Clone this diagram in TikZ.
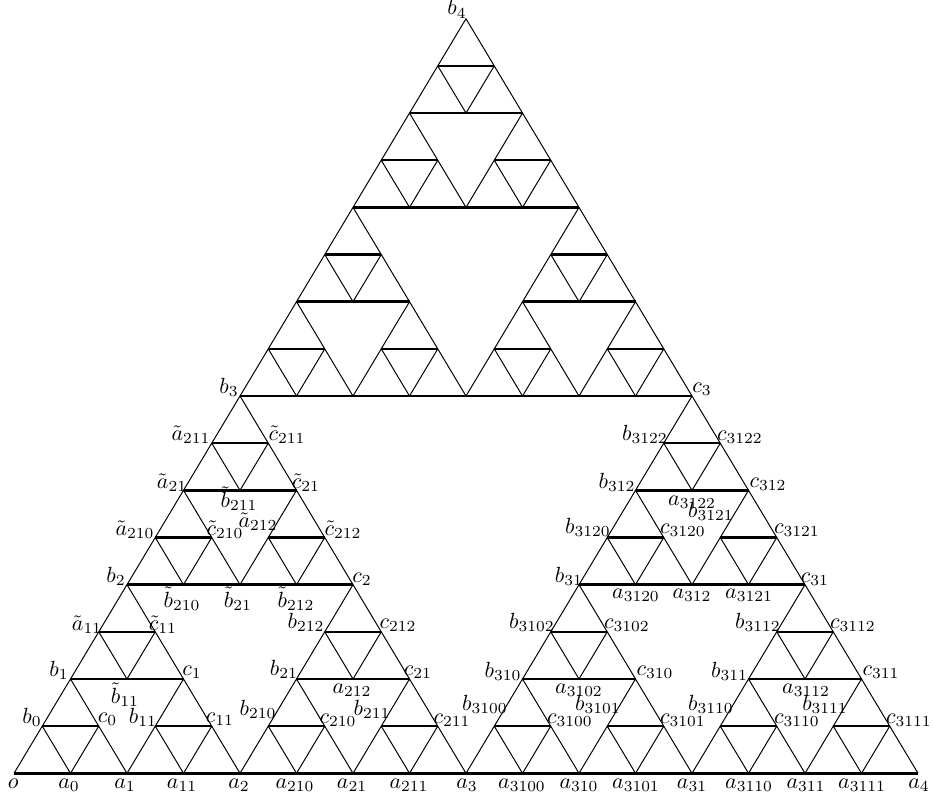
\documentclass[tikz,border=0pt]{standalone}
\begin{document}
\begin{tikzpicture}[x=0.016cm,y=-0.016cm,
  hline/.style={line width=1.1pt},
  sline/.style={line width=0.45pt,line join=round},
  lab/.style={anchor=base,inner sep=0pt,font=\fontsize{10}{12}\selectfont}]
\useasboundingbox (0,0) rectangle (933,798);
% level-4 Sierpinski gasket: 81 small upward triangles
\foreach \ua in {0,1,2}{\foreach \ub in {0,1,2}{\foreach \uc in {0,1,2}{\foreach \ud in {0,1,2}{
  \pgfmathtruncatemacro{\kk}{8*(\ua==1)+4*(\ub==1)+2*(\uc==1)+(\ud==1)}
  \pgfmathtruncatemacro{\jj}{8*(\ua==2)+4*(\ub==2)+2*(\uc==2)+(\ud==2)}
  \pgfmathsetmacro{\xl}{14+56.5*(\kk+\jj/2)}
  \pgfmathsetmacro{\yb}{773.3-47.16*\jj}
  \coordinate (L) at (\xl,\yb);
  \coordinate (R) at (\xl+56.5,\yb);
  \coordinate (T) at (\xl+28.25,\yb-47.16);
  \draw[sline] (L) -- (T) -- (R);
  \draw[hline] (L) -- (R);
}}}}
% bottom row
\node[lab] (lo) at (13.3,788) {$o$};
\node[lab] (la0) at (69,788) {$a_0$};
\node[lab] (la1) at (125,788) {$a_1$};
\node[lab] (la11) at (182,788) {$a_{11}$};
\node[lab] (la2) at (239,788) {$a_2$};
\node[lab] (la210) at (295,788) {$a_{210}$};
\node[lab] (la21) at (352,788) {$a_{21}$};
\node[lab] (la211) at (409,788) {$a_{211}$};
\node[lab] (la3) at (467,788) {$a_3$};
\node[lab] (la3100) at (522,788) {$a_{3100}$};
\node[lab] (la310) at (579,788) {$a_{310}$};
\node[lab] (la3101) at (636,788) {$a_{3101}$};
\node[lab] (la31) at (692,788) {$a_{31}$};
\node[lab] (la3110) at (749,788) {$a_{3110}$};
\node[lab] (la311) at (806,788) {$a_{311}$};
\node[lab] (la3111) at (862,788) {$a_{3111}$};
\node[lab] (la4) at (919,788) {$a_4$};
% row 1
\node[lab] (lb0) at (32,723) {$b_0$};
\node[lab] (lc0) at (107.5,722) {$c_0$};
\node[lab] (lb11) at (143,723) {$b_{11}$};
\node[lab] (lc11) at (220,722) {$c_{11}$};
\node[lab] (lb210) at (258,715) {$b_{210}$};
\node[lab] (lc210) at (338,723) {$c_{210}$};
\node[lab] (lb211) at (372,715) {$b_{211}$};
\node[lab] (lc211) at (452,723) {$c_{211}$};
\node[lab] (lb3100) at (485,710) {$b_{3100}$};
\node[lab] (lc3100) at (570,723) {$c_{3100}$};
\node[lab] (lb3101) at (598,710) {$b_{3101}$};
\node[lab] (lc3101) at (683,723) {$c_{3101}$};
\node[lab] (lb3110) at (711,710) {$b_{3110}$};
\node[lab] (lc3110) at (797,723) {$c_{3110}$};
\node[lab] (lb3111) at (825,710) {$b_{3111}$};
\node[lab] (lc3111) at (909,723) {$c_{3111}$};
% row 2
\node[lab] (lb1) at (59,676) {$b_1$};
\node[lab] (ltb11) at (125,703) {$\tilde b_{11}$};
\node[lab] (lc1) at (192,675) {$c_1$};
\node[lab] (lb21) at (284,675) {$b_{21}$};
\node[lab] (la212) at (352,693) {$a_{212}$};
\node[lab] (lc21) at (418,675) {$c_{21}$};
\node[lab] (lb310) at (503,677) {$b_{310}$};
\node[lab] (la3102) at (579,693) {$a_{3102}$};
\node[lab] (lc310) at (655,675) {$c_{310}$};
\node[lab] (lb311) at (729.5,677) {$b_{311}$};
\node[lab] (la3112) at (806,693) {$a_{3112}$};
\node[lab] (lc311) at (881,675) {$c_{311}$};
% row 3
\node[lab] (lta11) at (87,630) {$\tilde a_{11}$};
\node[lab] (ltc11) at (163,630) {$\tilde c_{11}$};
\node[lab] (lb212) at (306,628) {$b_{212}$};
\node[lab] (lc212) at (398,628) {$c_{212}$};
\node[lab] (lb3102) at (532,628) {$b_{3102}$};
\node[lab] (lc3102) at (627,628) {$c_{3102}$};
\node[lab] (lb3112) at (758,628) {$b_{3112}$};
\node[lab] (lc3112) at (853,628) {$c_{3112}$};
% row 4
\node[lab] (lb2) at (116,582) {$b_2$};
\node[lab] (ltb210) at (182,607) {$\tilde b_{210}$};
\node[lab] (ltb21) at (238,607) {$\tilde b_{21}$};
\node[lab] (ltb212) at (296,607) {$\tilde b_{212}$};
\node[lab] (lc2) at (362,582) {$c_2$};
\node[lab] (lb31) at (569,582) {$b_{31}$};
\node[lab] (la3120) at (636,598) {$a_{3120}$};
\node[lab] (la312) at (692,598) {$a_{312}$};
\node[lab] (la3121) at (749,598) {$a_{3121}$};
\node[lab] (lc31) at (815,582) {$c_{31}$};
% row 5
\node[lab] (lta210) at (135,535) {$\tilde a_{210}$};
\node[lab] (ltc210) at (225,535) {$\tilde c_{210}$};
\node[lab] (lta212) at (258,527) {$\tilde a_{212}$};
\node[lab] (ltc212) at (343,535) {$\tilde c_{212}$};
\node[lab] (lb3120) at (588,533) {$b_{3120}$};
\node[lab] (lc3120) at (683,533) {$c_{3120}$};
\node[lab] (lb3121) at (711,517) {$b_{3121}$};
\node[lab] (lc3121) at (797,533) {$c_{3121}$};
% row 6
\node[lab] (lta21) at (172,488) {$\tilde a_{21}$};
\node[lab] (ltb211) at (239,507) {$\tilde b_{211}$};
\node[lab] (ltc21) at (306,488) {$\tilde c_{21}$};
\node[lab] (lb312) at (617,488) {$b_{312}$};
\node[lab] (la3122) at (692,505) {$a_{3122}$};
\node[lab] (lc312) at (768,487) {$c_{312}$};
% row 7
\node[lab] (lta211) at (191,440) {$\tilde a_{211}$};
\node[lab] (ltc211) at (287,440) {$\tilde c_{211}$};
\node[lab] (lb3122) at (645,440) {$b_{3122}$};
\node[lab] (lc3122) at (740,440) {$c_{3122}$};
% row 8 and apex
\node[lab] (lb3) at (229,393) {$b_3$};
\node[lab] (lc3) at (702,392) {$c_3$};
\node[lab] (lb4) at (457,15) {$b_4$};
\end{tikzpicture}
\end{document}
